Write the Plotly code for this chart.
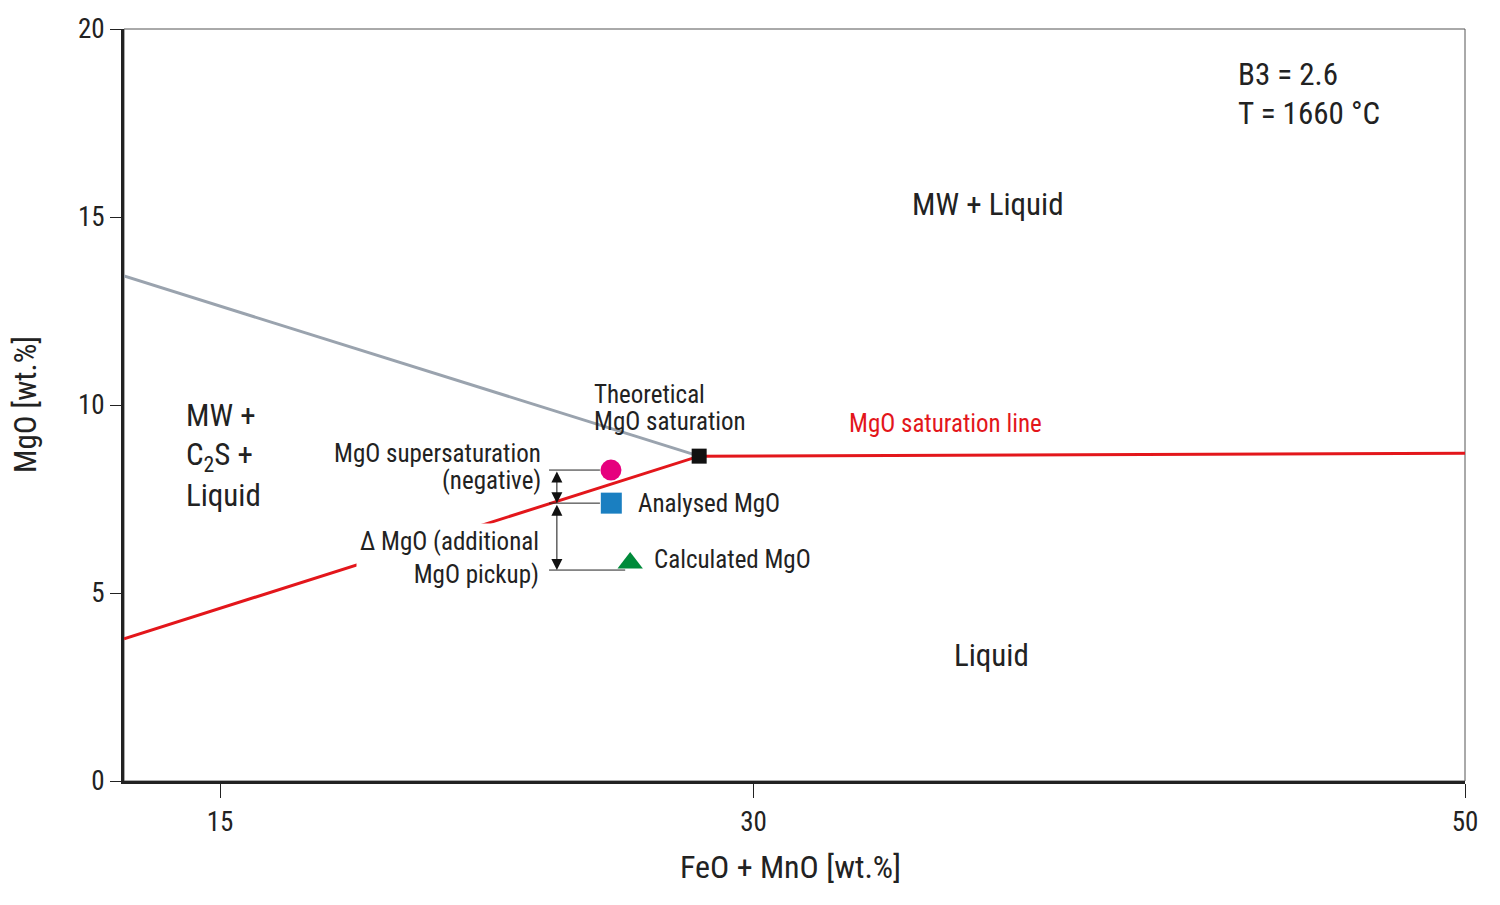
import plotly.graph_objects as go

# ---- data ----
gray_x = [12.3, 28.47]
gray_y = [13.43, 8.64]
red_x = [12.3, 28.47, 50.0]
red_y = [3.78, 8.64, 8.72]
corner_x = [28.47]
corner_y = [8.64]
super_x = [25.99]
super_y = [8.27]
analysed_x = [26.0]
analysed_y = [7.39]
calc_x = [26.53]
calc_y = [5.80]
ref_levels = [8.27, 7.39, 5.61]
ref_line_start = 24.25
ref_line_ends = [25.68, 25.68, 26.39]
arrow_x = 24.47
x_ticks = [15, 30, 50]
y_ticks = [0, 5, 10, 15, 20]

FONT = "Liberation Sans Narrow, Arial Narrow, Roboto Condensed, sans-serif"
TXT = "#222222"

fig = go.Figure()
fig.add_trace(go.Scatter(x=gray_x, y=gray_y, mode="lines",
                         line=dict(color="#9aa3ae", width=3), showlegend=False))
fig.add_trace(go.Scatter(x=red_x, y=red_y, mode="lines",
                         line=dict(color="#e3161b", width=3), showlegend=False))

# reference horizontal lines
for lvl, xe in zip(ref_levels, ref_line_ends):
    fig.add_trace(go.Scatter(x=[ref_line_start, xe], y=[lvl, lvl], mode="lines",
                             line=dict(color="#222222", width=1), showlegend=False))

fig.add_trace(go.Scatter(x=corner_x, y=corner_y, mode="markers",
                         marker=dict(symbol="square", size=15, color="#111111"), showlegend=False))
fig.add_trace(go.Scatter(x=super_x, y=super_y, mode="markers",
                         marker=dict(symbol="circle", size=21, color="#e6007e"), showlegend=False))
fig.add_trace(go.Scatter(x=analysed_x, y=analysed_y, mode="markers",
                         marker=dict(symbol="square", size=21, color="#1a7fc1"), showlegend=False))
fig.add_trace(go.Scatter(x=calc_x, y=calc_y, mode="markers",
                         marker=dict(symbol="triangle-up", size=22, color="#008a3a"), showlegend=False))

# double-headed arrows
for y0, y1 in [(ref_levels[0], ref_levels[1]), (ref_levels[1], ref_levels[2])]:
    fig.add_annotation(x=arrow_x, y=y1, ax=arrow_x, ay=y0, xref="x", yref="y",
                       axref="x", ayref="y", text="", showarrow=True,
                       arrowhead=2, arrowside="end+start", arrowsize=2.2,
                       arrowwidth=1, arrowcolor="#111111")

def label(text, x, y, size, xanchor="left", yanchor="middle", align="left",
          color=TXT, bgcolor=None, borderpad=1):
    fig.add_annotation(x=x, y=y, xref="x", yref="y", text=text, showarrow=False,
                       xanchor=xanchor, yanchor=yanchor, align=align,
                       font=dict(family=FONT, size=size, color=color),
                       bgcolor=bgcolor, borderpad=borderpad)

BIG = 31
SMALL = 25
label("MW + Liquid", 36.59, 15.32, BIG, xanchor="center", align="center")
label("Liquid", 36.70, 3.35, BIG, xanchor="center", align="center")
label("MW +", 14.0, 9.71, BIG)
label("C<sub>2</sub>S +", 14.0, 8.64, BIG)
label("Liquid", 14.0, 7.58, BIG)
label("B3 = 2.6", 43.55, 18.80, BIG)
label("T = 1660 °C", 43.55, 17.74, BIG)
label("Theoretical", 25.45, 10.29, SMALL)
label("MgO saturation", 25.45, 9.57, SMALL)
label("MgO saturation line", 32.62, 9.52, SMALL, color="#e3161b")
label("MgO supersaturation", 24.08, 8.70, SMALL, xanchor="right", align="right")
label("(negative)", 24.08, 7.98, SMALL, xanchor="right", align="right")
label("Analysed MgO", 26.70, 7.39, SMALL)
label("Calculated MgO", 27.15, 5.88, SMALL)
label("Δ MgO (additional<br>MgO pickup)", 24.08, 5.93, SMALL, xanchor="right",
      align="right", bgcolor="white", borderpad=3)

# axis titles (plot area: 1341 x 752 px)
fig.add_annotation(x=(790 - 124) / 1341, y=-(867 - 781) / 752, xref="paper", yref="paper",
                   text="FeO + MnO [wt.%]", showarrow=False, xanchor="center", yanchor="middle",
                   font=dict(family=FONT, size=32, color=TXT))
fig.add_annotation(x=-(124 - 25) / 1341, y=(781 - 405) / 752, xref="paper", yref="paper",
                   text="MgO [wt.%]", showarrow=False, textangle=-90,
                   xanchor="center", yanchor="middle",
                   font=dict(family=FONT, size=31, color=TXT))

# thin frame
fig.add_shape(type="rect", xref="paper", yref="paper", x0=0, y0=0, x1=1, y1=1,
              line=dict(color="#555555", width=1), layer="below")

fig.update_xaxes(range=[12.3, 50], tickvals=x_ticks, ticktext=[str(v) for v in x_ticks],
                 showgrid=False, zeroline=False, showline=True, linewidth=3, linecolor="#222222",
                 ticks="outside", ticklen=14, tickwidth=1, tickcolor="#222222", automargin=False,
                 tickfont=dict(family=FONT, size=27, color=TXT), ticklabelstandoff=1)
fig.update_yaxes(range=[0, 20], tickvals=y_ticks, ticktext=[str(v) for v in y_ticks],
                 showgrid=False, zeroline=False, showline=True, linewidth=3, linecolor="#222222",
                 ticks="outside", ticklen=11, tickwidth=1, tickcolor="#222222", automargin=False,
                 tickfont=dict(family=FONT, size=27, color=TXT))

# page has an 8px body margin, so the figure is sized to fit inside the window
fig.update_layout(width=1484, height=889, plot_bgcolor="white", paper_bgcolor="white",
                  margin=dict(l=116, r=27, t=21, b=116), showlegend=False)

fig.write_html("out.html")
